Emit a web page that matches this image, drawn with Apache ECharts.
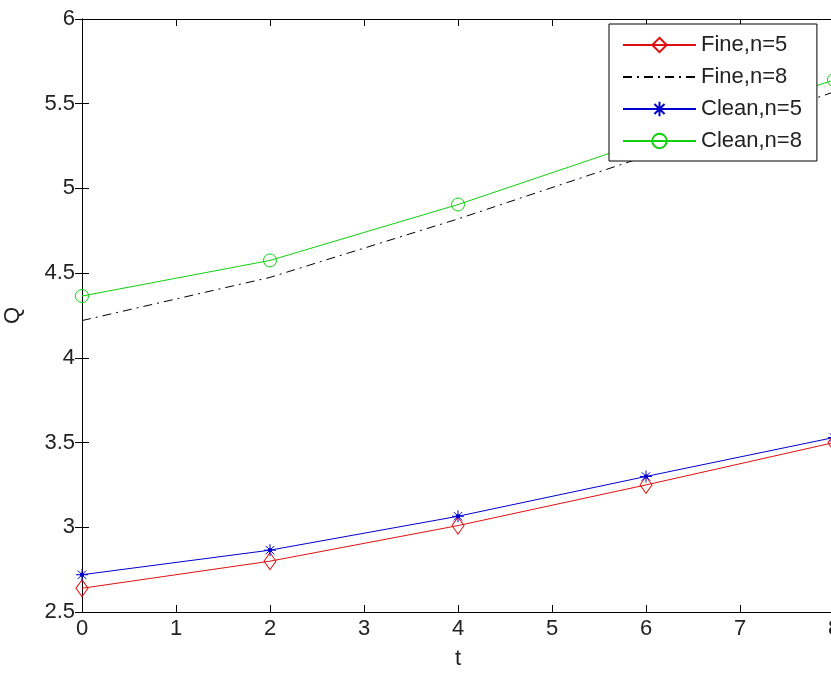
<!DOCTYPE html>
<html>
<head>
<meta charset="utf-8">
<script src="https://cdn.jsdelivr.net/npm/echarts@6/dist/echarts.min.js"></script>
<style>
  html, body { margin: 0; padding: 0; background: #fff; }
  #chart { width: 831px; height: 673px; }
</style>
</head>
<body>
<div id="chart"></div>
<script>
// data
var tVals = [0, 2, 4, 6, 8];
var fine5 = [2.64, 2.80, 3.01, 3.25, 3.50];
var fine8 = [4.22, 4.475, 4.82, 5.19, 5.57];
var clean5 = [2.72, 2.865, 3.065, 3.30, 3.53];
var clean8 = [4.365, 4.575, 4.905, 5.28, 5.64];
var seriesNames = ['Fine,n=5', 'Fine,n=8', 'Clean,n=5', 'Clean,n=8'];
var xTicks = [0, 8, 1];      // min, max, step
var yTicks = [2.5, 6, 0.5];

function pairs(vals) {
  return tVals.map(function (t, i) { return [t, vals[i]]; });
}

var font = '"Liberation Sans", Arial, sans-serif';
var starPath = 'path://M0,-6L0,6M-6,0L6,0M-4.2,-4.2L4.2,4.2M-4.2,4.2L4.2,-4.2M-1.4,-1.4L1.4,-1.4L1.4,1.4L-1.4,1.4Z';

var chart = echarts.init(document.getElementById('chart'));

var tickStyle = { inside: true, length: 7, lineStyle: { color: '#000', width: 1 } };

chart.setOption({
  animation: false,
  backgroundColor: '#fff',
  grid: { left: 82, top: 19, width: 752, height: 593, containLabel: false, outerBoundsMode: 'none' },
  legend: {
    orient: 'vertical',
    left: 609,
    top: 24,
    padding: [10, 15, 9, 13],
    itemWidth: 73,
    itemHeight: 18,
    itemGap: 10,
    backgroundColor: '#fff',
    borderColor: '#000',
    borderWidth: 1,
    borderRadius: 0,
    textStyle: { fontFamily: font, fontSize: 22, lineHeight: 22, color: '#222' },
    data: seriesNames
  },
  xAxis: [{
    type: 'value', min: xTicks[0], max: xTicks[1], interval: xTicks[2],
    name: 't', nameLocation: 'middle', nameGap: 36,
    nameTextStyle: { fontFamily: font, fontSize: 22, color: '#222' },
    axisLine: { lineStyle: { color: '#000', width: 1 } },
    axisTick: tickStyle,
    axisLabel: { fontFamily: font, fontSize: 22, color: '#222', margin: 6 },
    splitLine: { show: false }
  }, {
    type: 'value', position: 'top', min: xTicks[0], max: xTicks[1], interval: xTicks[2],
    axisLine: { lineStyle: { color: '#000', width: 1 } },
    axisTick: tickStyle,
    axisLabel: { show: false },
    splitLine: { show: false }
  }],
  yAxis: [{
    type: 'value', min: yTicks[0], max: yTicks[1], interval: yTicks[2],
    name: 'Q', nameLocation: 'middle', nameGap: 58,
    nameTextStyle: { fontFamily: font, fontSize: 22, color: '#222' },
    axisLine: { show: true, lineStyle: { color: '#000', width: 1 } },
    axisTick: tickStyle,
    axisLabel: { fontFamily: font, fontSize: 22, color: '#222', margin: 7 },
    splitLine: { show: false }
  }, {
    type: 'value', position: 'right', min: yTicks[0], max: yTicks[1], interval: yTicks[2],
    axisLine: { show: true, lineStyle: { color: '#000', width: 1 } },
    axisTick: tickStyle,
    axisLabel: { show: false },
    splitLine: { show: false }
  }],
  series: [{
    name: seriesNames[0], type: 'line', data: pairs(fine5),
    symbol: 'diamond', symbolSize: [12, 17], showAllSymbol: true,
    lineStyle: { color: '#e01010', width: 1 },
    itemStyle: { color: 'transparent', borderColor: '#e01010', borderWidth: 1 }
  }, {
    name: seriesNames[1], type: 'line', data: pairs(fine8),
    symbol: 'none',
    lineStyle: { color: '#000', width: 1, type: [9, 5, 2, 5] },
    itemStyle: { color: 'transparent', borderColor: 'transparent', borderWidth: 0 }
  }, {
    name: seriesNames[2], type: 'line', data: pairs(clean5),
    symbol: starPath, symbolSize: 12,
    lineStyle: { color: '#0000d0', width: 1 },
    itemStyle: { color: '#0000d0', borderColor: '#0000d0', borderWidth: 1 }
  }, {
    name: seriesNames[3], type: 'line', data: pairs(clean8),
    symbol: 'circle', symbolSize: 13,
    lineStyle: { color: '#10d010', width: 1 },
    itemStyle: { color: 'transparent', borderColor: '#10d010', borderWidth: 1 }
  }]
});
</script>
</body>
</html>
